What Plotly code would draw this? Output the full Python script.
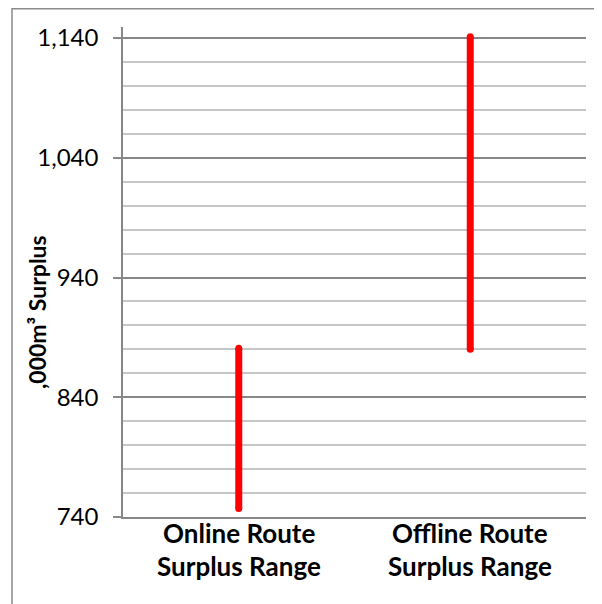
import plotly.graph_objects as go

categories = ["Online Route Surplus Range", "Offline Route Surplus Range"]
label_line1 = ["Online Route", "Offline Route"]
label_line2 = ["Surplus Range", "Surplus Range"]
low_values = [747, 880]
high_values = [881, 1141]
y_ticks = [740, 840, 940, 1040, 1140]
y_tick_text = ["740", "840", "940", "1,040", "1,140"]
y_title = ",000m³ Surplus"

FONT = "Lato"
RED = "#ff0000"
MAJOR = "#878787"
MINOR = "#c6c6c6"

fig = go.Figure()
for i, cat in enumerate(categories):
    fig.add_trace(go.Scatter(
        x=[cat, cat], y=[low_values[i], high_values[i]],
        mode="lines+markers",
        line=dict(color=RED, width=7),
        marker=dict(color=RED, size=7, line=dict(width=0)),
        showlegend=False, hoverinfo="skip",
    ))

for i, cat in enumerate(categories):
    fig.add_annotation(x=cat, xref="x", y=0, yref="paper", text="<b>%s</b>" % label_line1[i],
                       showarrow=False, yanchor="middle", yshift=-16,
                       font=dict(family=FONT, size=26, color="black"))
    fig.add_annotation(x=cat, xref="x", y=0, yref="paper", text="<b>%s</b>" % label_line2[i],
                       showarrow=False, yanchor="middle", yshift=-49,
                       font=dict(family=FONT, size=26, color="black"))

fig.add_annotation(x=-0.186, xref="paper", y=0.418, yref="paper", text="<b>%s</b>" % y_title,
                   showarrow=False, textangle=-90, xanchor="center", yanchor="middle",
                   font=dict(family=FONT, size=23, color="black"))

# outer chart border
fig.add_shape(type="rect", xref="paper", yref="paper", x0=-0.2397, x1=1.2, y0=-0.5, y1=1.037,
              line=dict(color="#8a8a8a", width=1.5), fillcolor="rgba(0,0,0,0)", layer="below")

fig.update_layout(
    width=594, height=596,
    margin=dict(l=115, r=16, t=19, b=87),
    paper_bgcolor="white", plot_bgcolor="white",
    font=dict(family=FONT, color="black"),
    xaxis=dict(
        type="category", categoryarray=categories, range=[-0.5, 1.5],
        showticklabels=False, showgrid=False, zeroline=False,
        showline=True, linecolor=MAJOR, linewidth=1.5, ticks="",
    ),
    yaxis=dict(
        range=[740, 1149.2], tickvals=y_ticks, ticktext=y_tick_text,
        ticks="outside", ticklen=8, tickcolor=MAJOR, tickwidth=1.5,
        ticklabelstandoff=10,
        showline=True, linecolor=MAJOR, linewidth=1.5,
        showgrid=True, gridcolor=MAJOR, gridwidth=1.5, zeroline=False,
        tickfont=dict(family=FONT, size=24, color="black"),
        minor=dict(dtick=20, tick0=740, showgrid=True, gridcolor=MINOR, gridwidth=1.5, ticks=""),
    ),
)

fig.write_html("out.html")
